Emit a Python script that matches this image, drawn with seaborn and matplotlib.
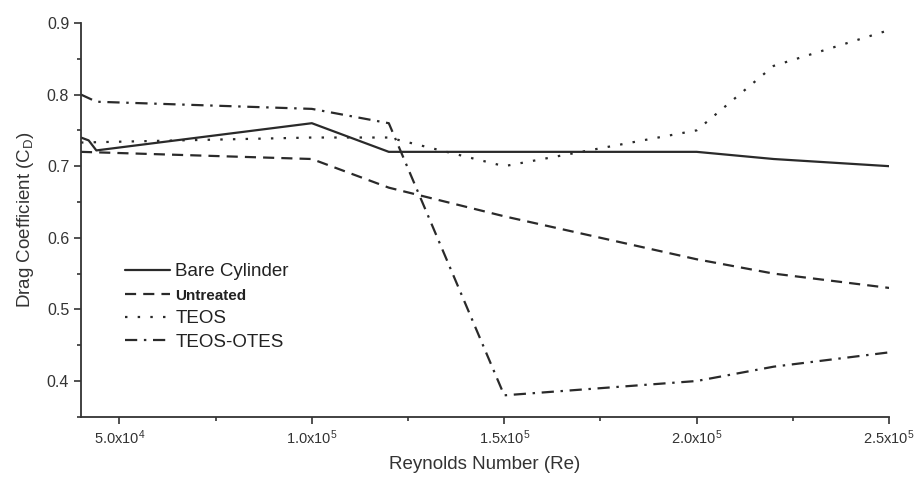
import pandas as pd
import numpy as np
import seaborn as sns
import matplotlib
matplotlib.use('Agg')
import matplotlib.pyplot as plt
from matplotlib.ticker import MultipleLocator, FixedLocator


# values
series_names = ['Bare Cylinder', 'Untreated', 'TEOS', 'TEOS-OTES']

re_bare = [40000, 42000, 44000, 100000, 120000, 150000, 200000, 220000, 250000]
cd_bare = [0.74, 0.736, 0.722, 0.76, 0.72, 0.72, 0.72, 0.71, 0.70]

re_untreated = [40000, 100000, 120000, 150000, 200000, 220000, 250000]
cd_untreated = [0.72, 0.71, 0.67, 0.63, 0.57, 0.55, 0.53]

re_teos = [40000, 100000, 120000, 150000, 200000, 220000, 250000]
cd_teos = [0.733, 0.74, 0.74, 0.70, 0.75, 0.84, 0.89]

re_teos_otes = [40000, 44000, 100000, 120000, 150000, 200000, 220000, 250000]
cd_teos_otes = [0.80, 0.79, 0.78, 0.76, 0.38, 0.40, 0.42, 0.44]

x_tick_vals = [50000, 100000, 150000, 200000, 250000]
x_tick_labels = [r'$\mathregular{5.0x10^{4}}$', r'$\mathregular{1.0x10^{5}}$', r'$\mathregular{1.5x10^{5}}$',
                 r'$\mathregular{2.0x10^{5}}$', r'$\mathregular{2.5x10^{5}}$']


def build_df():
    frames = []
    all_x = [re_bare, re_untreated, re_teos, re_teos_otes]
    all_y = [cd_bare, cd_untreated, cd_teos, cd_teos_otes]
    for name, xs, ys in zip(series_names, all_x, all_y):
        frames.append(pd.DataFrame({'Re': xs, 'Cd': ys, 'sample': name}))
    return pd.concat(frames, ignore_index=True)


def plot_drag():
    sns.set_style('ticks')
    plt.rcParams['font.family'] = ['Liberation Sans', 'DejaVu Sans']
    plt.rcParams['axes.edgecolor'] = '#333333'
    plt.rcParams['axes.linewidth'] = 1.3

    df = build_df()
    line_col = '#2a2a2a'
    # solid, dashed, dotted, dash-dot
    dash_styles = ['', (5, 3.2), (1.1, 4.6), (5.5, 3, 1.1, 3)]

    fig = plt.figure(figsize=(9.19, 4.78), dpi=100)
    ax = fig.add_axes([0.0881, 0.128, 0.8793, 0.824])
    sns.lineplot(data=df, x='Re', y='Cd', hue='sample', style='sample', hue_order=series_names,
                 style_order=series_names, palette=[line_col] * 4, dashes=dash_styles,
                 estimator=None, sort=False, linewidth=1.6, ax=ax)

    ax.set_xlim(40000, 250000)
    ax.set_ylim(0.35, 0.9)
    ax.xaxis.set_major_locator(FixedLocator(x_tick_vals))
    ax.set_xticklabels(x_tick_labels)
    ax.xaxis.set_minor_locator(FixedLocator([75000, 125000, 175000, 225000]))
    ax.yaxis.set_major_locator(MultipleLocator(0.1))
    ax.yaxis.set_minor_locator(MultipleLocator(0.05))
    ax.tick_params(axis='x', which='major', labelsize=10.5)
    ax.tick_params(axis='y', which='major', labelsize=11.5)
    ax.tick_params(axis='both', which='major', direction='out', length=5, width=1.2,
                   colors='#333333', labelcolor='#333333')
    ax.tick_params(axis='both', which='minor', direction='out', length=3, width=1.2, colors='#333333')
    sns.despine(ax=ax)

    ax.set_xlabel('Reynolds Number (Re)', fontsize=13.5, color='#333333', labelpad=6)
    ax.set_ylabel(r'Drag Coefficient (C$_\mathregular{D}$)', fontsize=13.5, color='#333333', labelpad=8)

    leg = ax.legend(loc='upper left', bbox_to_anchor=(0.054, 0.39), frameon=False, fontsize=13.5,
                    handlelength=2.4, handletextpad=0.3, labelspacing=0.36, borderaxespad=0, borderpad=0)
    for txt in leg.get_texts():
        txt.set_color('#222222')
        if txt.get_text() == 'Untreated':
            txt.set_fontsize(11)
            txt.set_fontweight('bold')
    for line in leg.get_lines():
        line.set_linewidth(1.6)

    fig.savefig('out.png', dpi=100)


if __name__ == '__main__':
    plot_drag()
